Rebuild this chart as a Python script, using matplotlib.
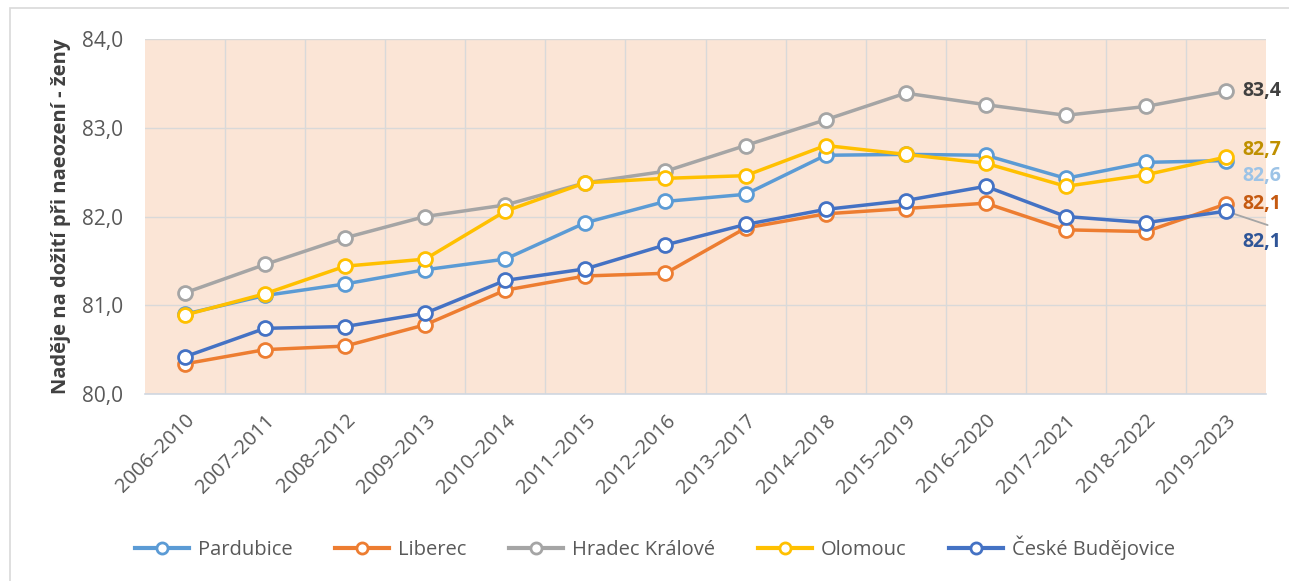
import matplotlib
matplotlib.use("Agg")
import matplotlib.pyplot as plt
from matplotlib.patches import Rectangle
from matplotlib.lines import Line2D

periods = ["2006–2010", "2007–2011", "2008–2012", "2009–2013", "2010–2014",
           "2011–2015", "2012–2016", "2013–2017", "2014–2018", "2015–2019",
           "2016–2020", "2017–2021", "2018–2022", "2019–2023"]

pardubice = [80.90, 81.11, 81.24, 81.40, 81.52, 81.93, 82.17, 82.25, 82.69, 82.70, 82.69, 82.43, 82.61, 82.63]
liberec = [80.34, 80.50, 80.54, 80.78, 81.17, 81.33, 81.36, 81.87, 82.03, 82.09, 82.15, 81.85, 81.83, 82.14]
hradec = [81.14, 81.46, 81.76, 82.00, 82.13, 82.38, 82.51, 82.80, 83.09, 83.39, 83.26, 83.14, 83.24, 83.41]
olomouc = [80.89, 81.13, 81.44, 81.52, 82.06, 82.38, 82.43, 82.46, 82.80, 82.70, 82.60, 82.34, 82.47, 82.67]
budejovice = [80.42, 80.74, 80.76, 80.91, 81.28, 81.41, 81.68, 81.91, 82.08, 82.18, 82.34, 82.00, 81.93, 82.06]

names = ["Pardubice", "Liberec", "Hradec Králové", "Olomouc", "České Budějovice"]
series = [pardubice, liberec, hradec, olomouc, budejovice]
colors = ["#5B9BD5", "#ED7D31", "#A5A5A5", "#FFC000", "#4472C4"]
label_colors = ["#9DC3E6", "#C55A11", "#404040", "#BF9000", "#2F5597"]
label_dy = [-11, 0, 0, 5, -22]  # offset points for end labels

plt.rcParams['font.family'] = ['Open Sans', 'DejaVu Sans']

W, H = 1289, 581
fig = plt.figure(figsize=(W / 100, H / 100), dpi=100)
fig.patches.append(Rectangle((10 / W, -0.02), 1.1, 1 - 8 / H + 0.02, transform=fig.transFigure,
                             fill=False, edgecolor="#D9D9D9", linewidth=1.2))

ax = fig.add_axes([145 / W, 1 - 394 / H, (1266 - 145) / W, (394 - 39) / H])
ax.set_facecolor("#FBE5D6")

x = list(range(len(periods)))
for i, (name, vals, c) in enumerate(zip(names, series, colors)):
    ax.plot(x, vals, color=c, lw=2.5, marker="o", markersize=10,
            markerfacecolor="white", markeredgecolor=c, markeredgewidth=2.0,
            zorder=3 + i, label=name, solid_capstyle="round")

# leader line for the Budějovice label
ax.annotate("", xy=(x[-1], budejovice[-1]), xytext=(30, -10), textcoords="offset points",
            arrowprops=dict(arrowstyle="-", color="#A5A5A5", lw=1.3, shrinkA=0, shrinkB=0),
            zorder=2, annotation_clip=False)

for vals, lc, dy in zip(series, label_colors, label_dy):
    ax.annotate(f"{vals[-1]:.1f}".replace(".", ","), xy=(x[-1], vals[-1]),
                xytext=(12, dy), textcoords="offset points", ha="left", va="center",
                color=lc, fontsize=14, fontweight="bold", annotation_clip=False, zorder=20)

ax.set_xlim(-0.5, len(periods) - 0.5)
ax.set_ylim(80, 84)
ax.set_yticks([80, 81, 82, 83, 84])
ax.set_yticklabels(["80,0", "81,0", "82,0", "83,0", "84,0"])
ax.set_xticks(x)
ax.set_xticklabels(periods, rotation=45, ha="right", rotation_mode="anchor")
ax.set_xticks([v + 0.5 for v in x[:-1]], minor=True)

ax.tick_params(axis="y", length=0, pad=16, labelsize=15, labelcolor="#595959")
ax.tick_params(axis="x", which="major", length=0, pad=12, labelsize=14.5, labelcolor="#595959")
ax.tick_params(axis="x", which="minor", length=0)
ax.grid(axis="y", color="#D9D9D9", lw=1.0, zorder=0)
ax.grid(axis="x", which="minor", color="#D9D9D9", lw=1.0, zorder=0)
ax.grid(axis="x", which="major", visible=False)
ax.set_axisbelow(True)
for s in ["top", "right", "left"]:
    ax.spines[s].set_visible(False)
ax.spines["bottom"].set_color("#D0D7E0")
ax.spines["bottom"].set_linewidth(1.2)

ax.set_ylabel("Naděje na dožití při naeození - ženy", fontsize=14.5, fontweight="bold",
              color="#404040")
ax.yaxis.set_label_coords(-0.066, 0.5)

handles = [Line2D([], [], color=c, lw=3, marker="o", markersize=8, markerfacecolor="white",
                  markeredgecolor=c, markeredgewidth=2) for c in colors]
fig.legend(handles, names, loc="center", bbox_to_anchor=(655 / W, 1 - 548 / H), ncol=5,
           frameon=False, fontsize=14.5, handlelength=2.7, handletextpad=0.45,
           columnspacing=2.1, labelcolor="#595959")

fig.savefig("out.png", dpi=100)
